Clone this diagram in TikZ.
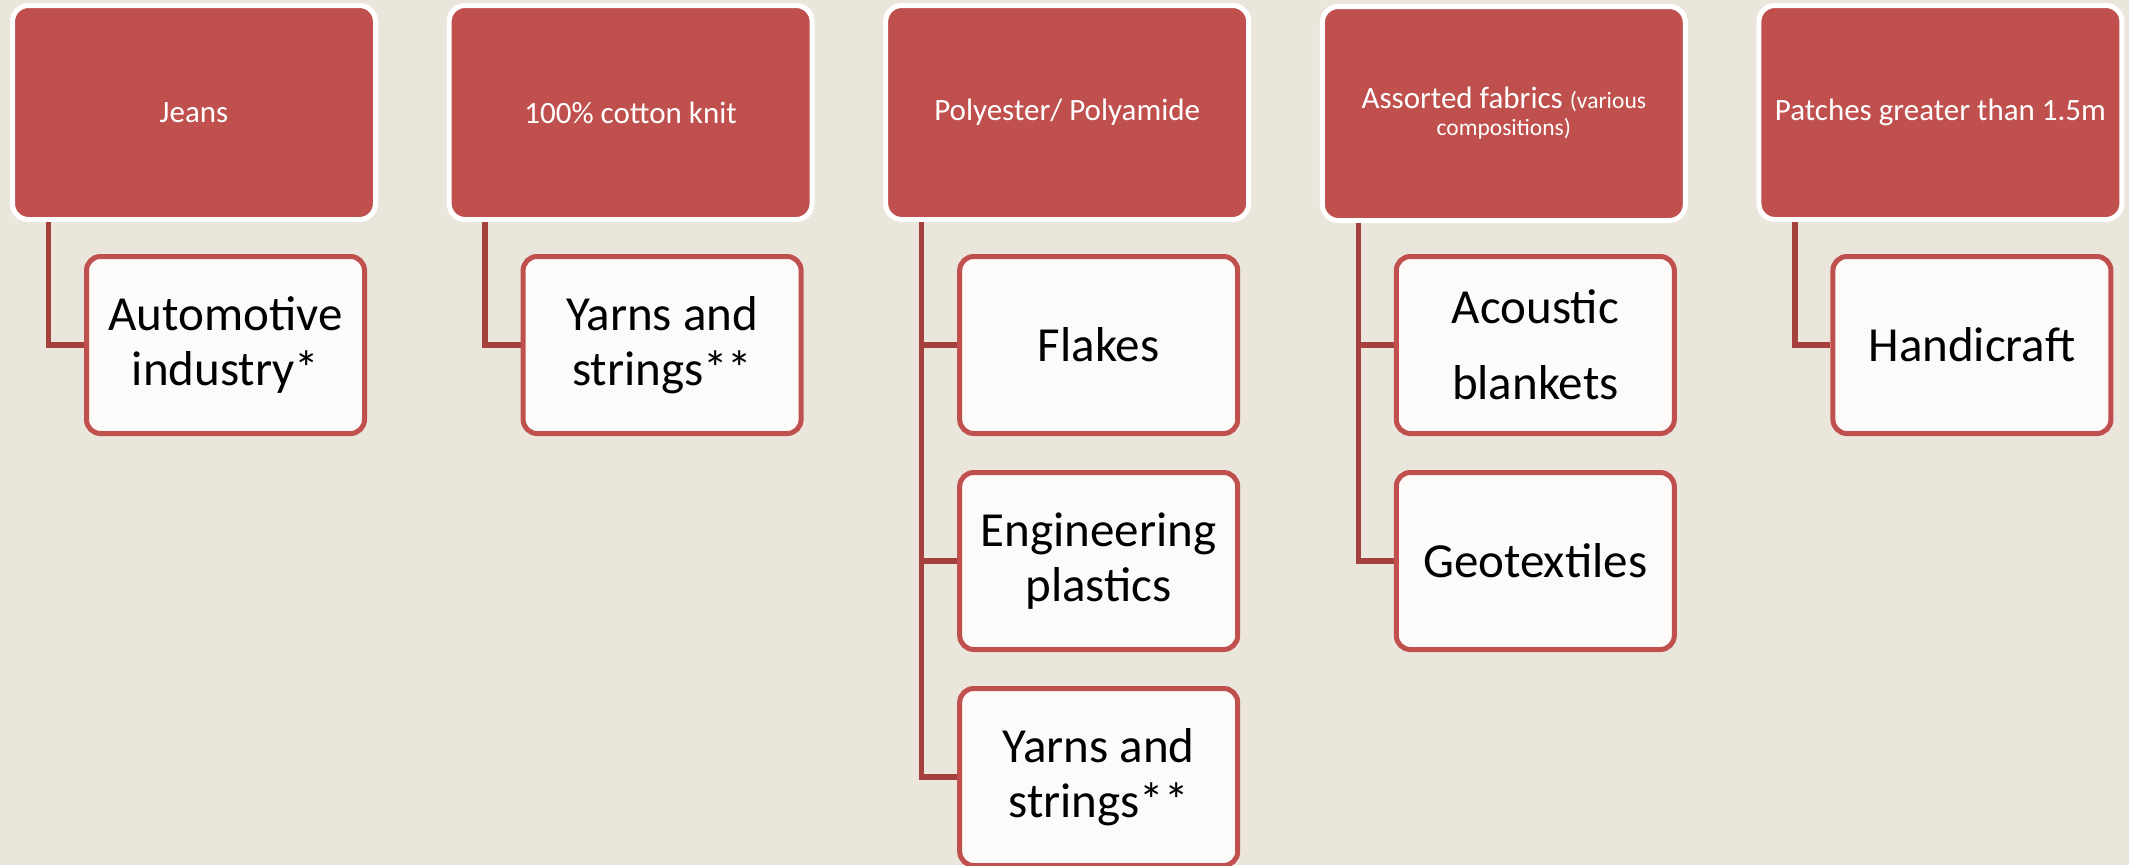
\documentclass[tikz,border=0pt]{standalone}
\usepackage{fontspec}
\setmainfont{Carlito}
\definecolor{hdr}{HTML}{C0504D}
\definecolor{connc}{HTML}{A6413E}
\definecolor{bgc}{HTML}{EBE6DC}
\definecolor{boxfill}{HTML}{FCFBF9}
\begin{document}
\begin{tikzpicture}[x=1pt,y=-1pt,
  hdrbox/.style={rectangle, rounded corners=16pt, fill=hdr, draw=white, line width=5pt,
    minimum width=363pt, minimum height=214pt, inner sep=0pt, text=white, align=center,
    font=\fontsize{31}{37}\selectfont},
  kidbox/.style={rectangle, rounded corners=14pt, fill=boxfill, draw=hdr, line width=5pt,
    minimum width=278pt, minimum height=177pt, inner sep=0pt, align=center,
    font=\fontsize{49}{55}\selectfont},
  conn/.style={draw=connc, line width=5.5pt}]
\fill[bgc] (0,0) rectangle (2129,865);
\useasboundingbox (0,0) rectangle (2129,865);
\clip (0,0) rectangle (2129,865);

% headers
\node[hdrbox] (h1) at (194,112.5) {Jeans};
\node[hdrbox] (h2) at (630.6,112.5) {100\% cotton knit};
\node[hdrbox] (h3) at (1067.2,112.5) {Polyester/ Polyamide};
\node[hdrbox] (h4) at (1503.8,113.5) {Assorted fabrics {\fontsize{23.5}{27}\selectfont (various}\\[-10pt]{\fontsize{23.5}{27}\selectfont compositions)}};
\node[hdrbox] (h5) at (1940.4,112.5) {Patches greater than 1.5m};

% children
\node[kidbox] (c1a) at (225.5,345) {Automotive\\industry*};
\node[kidbox] (c2a) at (662.1,345) {Yarns and\\strings**};
\node[kidbox] (c3a) at (1098.7,345) {Flakes};
\node[kidbox] (c3b) at (1098.7,561) {Engineering\\plastics};
\node[kidbox] (c3c) at (1098.7,777) {Yarns and\\strings**};
\node[kidbox] (c4a) at (1535.3,345) {Acoustic\\[21pt]blankets};
\node[kidbox] (c4b) at (1535.3,561) {Geotextiles};
\node[kidbox] (c5a) at (1971.9,345) {Handicraft};

% connectors
\draw[conn] ([xshift=38.5pt]h1.south west) |- (c1a.west);
\draw[conn] ([xshift=38.5pt]h2.south west) |- (c2a.west);
\draw[conn] ([xshift=38.5pt]h3.south west) |- (c3c.west);
\draw[conn] ([xshift=38.5pt]h3.south west) |- (c3a.west);
\draw[conn] ([xshift=38.5pt]h3.south west) |- (c3b.west);
\draw[conn] ([xshift=38.5pt]h4.south west) |- (c4b.west);
\draw[conn] ([xshift=38.5pt]h4.south west) |- (c4a.west);
\draw[conn] ([xshift=38.5pt]h5.south west) |- (c5a.west);
\end{tikzpicture}
\end{document}
